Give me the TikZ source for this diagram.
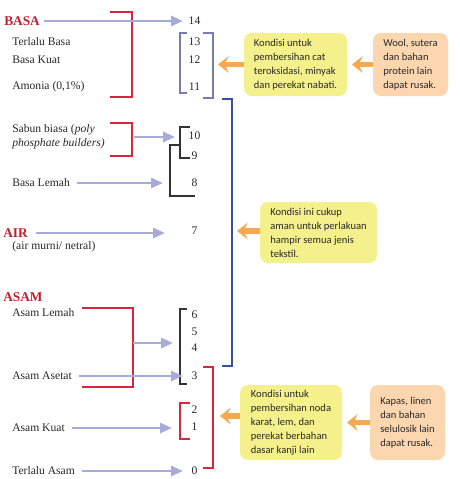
\documentclass[tikz,border=0pt]{standalone}
\usepackage{fontspec}
\setmainfont{Liberation Serif}
\newfontfamily\boxfont{Carlito}
\usetikzlibrary{arrows.meta}
\definecolor{redb}{RGB}{214,40,60}
\definecolor{redt}{RGB}{192,30,45}
\definecolor{purb}{RGB}{120,124,182}
\definecolor{blueb}{RGB}{55,80,160}
\definecolor{lav}{RGB}{166,172,218}
\definecolor{orng}{RGB}{246,170,80}
\definecolor{yel}{RGB}{244,240,140}
\definecolor{pch}{RGB}{252,214,174}
\definecolor{txt}{RGB}{40,40,40}
\tikzset{
  lbl/.style={anchor=west,inner sep=0pt,text=txt,font=\fontsize{8.7}{10.7}\selectfont,align=left},
  head/.style={anchor=west,inner sep=0pt,text=redt,font=\fontsize{10}{12}\selectfont\bfseries},
  num/.style={inner sep=0pt,text=txt,font=\fontsize{8.7}{10}\selectfont},
  arr/.style={draw=lav,line width=2.2pt,-{Triangle[length=9pt,width=7.5pt]}},
  oarr/.style={draw=orng,line width=3.8pt,-{Stealth[length=8pt,width=12.5pt,inset=3pt]}},
  brk/.style={line width=1.1pt},
  rbrk/.style={draw=redb,line width=1.4pt},
  infobox/.style={rounded corners=6pt,inner sep=0pt,align=left,text=txt,
    font=\boxfont\fontsize{7.9}{10.5}\selectfont},
}
\begin{document}
\begin{tikzpicture}[x=0.75pt,y=-0.75pt]
\useasboundingbox (0,0) rectangle (460,479);
% left labels
\node[head] (basa) at (4,21) {BASA};
\node[lbl] (tb) at (12,42) {Terlalu Basa};
\node[lbl] (bk) at (12,60) {Basa Kuat};
\node[lbl] (am) at (12,87) {Amonia (0,1\%)};
\node[lbl] (sb) at (12,136.5) {Sabun biasa (\textit{poly}\\\textit{phosphate builders)}};
\node[lbl] (bl) at (12,183) {Basa Lemah};
\node[head] (air) at (3,233) {AIR};
\node[lbl] (am2) at (12,247) {(air murni/ netral)};
\node[head] (asam) at (3,297) {ASAM};
\node[lbl] (al) at (12,313) {Asam Lemah};
\node[lbl] (aa) at (12,376) {Asam Asetat};
\node[lbl] (ak) at (12,428) {Asam Kuat};
\node[lbl] (ta) at (12,471) {Terlalu Asam};
% numbers
\foreach \n/\y in {14/21,13/42,12/60,11/87,10/136,9/156,8/183,7/231,6/315,5/332,4/348,3/376,2/410,1/427,0/471}
  \node[num] (n\n) at (194.5,\y) {\n};
% brackets
\draw[rbrk] (110,12) -- (132,12) -- (132,97) -- (110,97);
\draw[rbrk] (110,123) -- (132,123) -- (132,156) -- (110,156);
\draw[rbrk] (82,308) -- (133,308) -- (133,387) -- (82,387);
\draw[rbrk] (203,367) -- (213,367) -- (213,468) -- (203,468);
\draw[rbrk] (190,403) -- (180,403) -- (180,439) -- (190,439);
\draw[brk,draw=purb] (187,33) -- (180,33) -- (180,93) -- (187,93);
\draw[brk,draw=purb] (203,33) -- (213,33) -- (213,98) -- (203,98);
\draw[brk,draw=blueb] (222,99) -- (232,99) -- (232,366) -- (222,366);
\draw[brk,draw=black!80,line width=0.8pt] (190,127) -- (180,127) -- (180,158) -- (190,158);
\draw[brk,draw=black!80,line width=0.8pt] (180,145) -- (170,145) -- (170,196) -- (195,196);
\draw[brk,draw=black!80,line width=0.8pt] (187,309) -- (180,309) -- (180,384) -- (187,384);
% arrow end points
\coordinate (e14) at (183,21);
\coordinate (s10) at (134,137);
\coordinate (e10) at (175,137);
\coordinate (e8) at (163,183);
\coordinate (e7) at (165,233);
\coordinate (s4) at (133,343);
\coordinate (e4) at (173,343);
\coordinate (e3) at (183,376);
\coordinate (e1) at (172,428);
\coordinate (e0) at (183,471);
\draw[arr,shorten <=3pt] (basa.east) -- (e14);
\draw[arr] (s10) -- (e10);
\draw[arr,shorten <=5pt] (bl.east) -- (e8);
\draw[arr,shorten <=6pt] (air.east) -- (e7);
\draw[arr] (s4) -- (e4);
\draw[arr,shorten <=5pt] (aa.east) -- (e3);
\draw[arr,shorten <=5pt] (ak.east) -- (e1);
\draw[arr,shorten <=5pt] (ta.east) -- (e0);
% info boxes
\node[infobox,fill=yel,minimum width=77.25pt,minimum height=47.25pt] (y1) at (295.5,64.5)
  {Kondisi untuk\\pembersihan cat\\teroksidasi, minyak\\dan perekat nabati.};
\node[infobox,fill=pch,minimum width=56.25pt,minimum height=47.25pt] (p1) at (410.5,64.5)
  {Wool, sutera\\dan bahan\\protein lain\\dapat rusak.};
\node[infobox,fill=yel,minimum width=87.75pt,minimum height=45.75pt] (y2) at (318.5,232.5)
  {Kondisi ini cukup\\aman untuk perlakuan\\hampir semua jenis\\tekstil.};
\node[infobox,fill=yel,minimum width=76.5pt,minimum height=56.25pt] (y3) at (291,422.5)
  {Kondisi untuk\\pembersihan noda\\karat, lem, dan\\perekat berbahan\\dasar kanji lain};
\node[infobox,fill=pch,minimum width=56.25pt,minimum height=56.25pt] (p3) at (407.5,422.5)
  {Kapas, linen\\dan bahan\\selulosik lain\\dapat rusak.};
% orange arrows
\coordinate (o1) at (218,64.5);
\coordinate (o3) at (237,231);
\coordinate (o4) at (220,416);
\draw[oarr] (y1.west) -- (o1);
\draw[oarr,shorten >=3.5pt] (p1.west) -- (y1.east);
\draw[oarr] (y2.west |- o3) -- (o3);
\draw[oarr] (y3.west |- o4) -- (o4);
\draw[oarr,shorten >=3.5pt] (p3.west) -- (y3.east);
\end{tikzpicture}
\end{document}
